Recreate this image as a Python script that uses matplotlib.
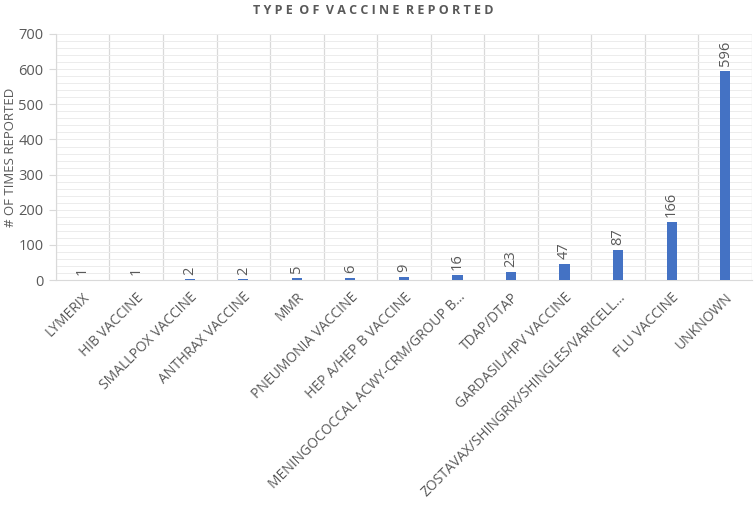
import numpy as np
import matplotlib
matplotlib.use("Agg")
import matplotlib.pyplot as plt
from matplotlib.ticker import MultipleLocator

plt.rcParams['font.family'] = ['Open Sans', 'DejaVu Sans']

# data
vaccines = ["LYMERIX", "HIB VACCINE", "SMALLPOX VACCINE", "ANTHRAX VACCINE", "MMR",
            "PNEUMONIA VACCINE", "HEP A/HEP B VACCINE",
            "MENINGOCOCCAL ACWY-CRM/GROUP B\u2026", "TDAP/DTAP", "GARDASIL/HPV VACCINE",
            "ZOSTAVAX/SHINGRIX/SHINGLES/VARICELL\u2026", "FLU VACCINE", "UNKNOWN"]
counts = [1, 1, 2, 2, 5, 6, 9, 16, 23, 47, 87, 166, 596]

grey = "#595959"
bar_col = "#4472C4"

fig = plt.figure(figsize=(7.55, 5.15), dpi=100)
ax = fig.add_axes([0.074, 0.456, 0.922, 0.478])

x = np.arange(len(vaccines))
bars = ax.bar(x, counts, width=0.19, color=bar_col, zorder=3)

for xi, v in zip(x, counts):
    ax.text(xi, v + 14, str(v), rotation=90, ha='center', va='bottom',
            fontsize=10.5, color=grey)

ax.set_xlim(-0.5, len(vaccines) - 0.5)
ax.set_ylim(0, 700)
ax.yaxis.set_major_locator(MultipleLocator(100))
ax.yaxis.set_minor_locator(MultipleLocator(20))

# category boundaries as vertical gridlines
for b in np.arange(-0.5, len(vaccines), 1.0):
    ax.axvline(b, color="#d9d9d9", lw=0.9, zorder=1)
ax.grid(axis='y', which='both', color="#ececec", lw=0.7, zorder=0)

ax.set_xticks(x)
ax.set_xticklabels(vaccines, rotation=45, ha='right', rotation_mode='anchor',
                   fontsize=10, color=grey)
ax.tick_params(axis='x', length=0, pad=7)
ax.tick_params(axis='y', which='major', length=5, color="#d9d9d9", labelsize=10.5,
               labelcolor=grey, pad=4)
ax.tick_params(axis='y', which='minor', length=0)

for s in ['top', 'right']:
    ax.spines[s].set_visible(False)
ax.spines['left'].set_color("#d9d9d9")
ax.spines['bottom'].set_color("#d9d9d9")

fig.text(11 / 755, 1 - 157 / 515, "# OF TIMES REPORTED", rotation=90,
         ha='center', va='center', fontsize=9.5, color=grey)
fig.text(0.495, 1 - 10 / 515, "T Y P E  O F  V A C C I N E  R E P O R T E D",
         ha='center', va='center', fontsize=9, fontweight='bold', color=grey)

fig.savefig("out.png", dpi=100, facecolor='white')
